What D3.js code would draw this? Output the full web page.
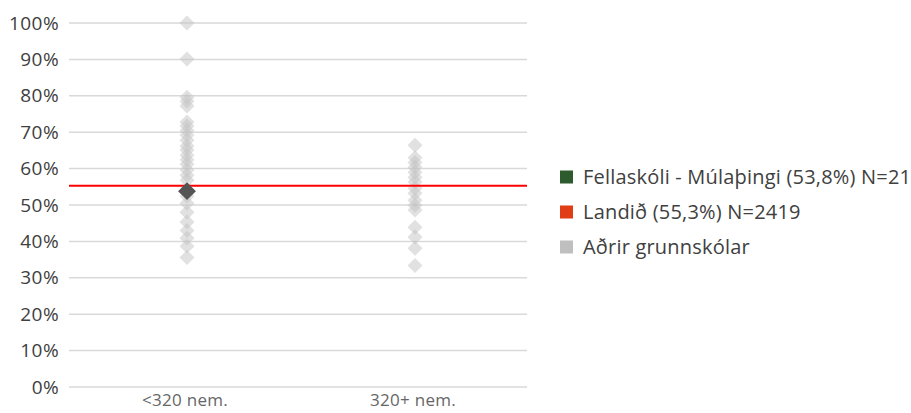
<!DOCTYPE html>
<html lang="is">
<head>
    <meta charset="UTF-8">
    <title>Grunnskólar</title>
    <script src="https://d3js.org/d3.v7.min.js"></script>
    <style>
        body {margin: 0; background: white;}
        svg {font-family: "Open Sans", sans-serif;}
        .grid line {stroke: #d9d9d9; stroke-width: 1.5;}
        .ytick {fill: #404040; font-size: 19px; letter-spacing: 0.4px;}
        .xtick {fill: #666; font-size: 17px; letter-spacing: 0.3px;}
        .legend text {fill: #404040; font-size: 20px; letter-spacing: 0.2px;}
    </style>
</head>
<body>
<script>
    const width = 911;
    const height = 413;

    // data
    const categories = ["<320 nem.", "320+ nem."];
    const smallSchools = [100, 90.1, 79.6, 78.5, 77.2, 72.8, 71.7, 70.5, 69.2, 67.8, 66.2, 65.1,
        63.7, 62.4, 61.2, 59.6, 58.2, 56.8, 52.4, 50.5, 48, 45.3, 43, 40.9, 38.7, 35.6];
    const largeSchools = [66.4, 63, 61.7, 60.4, 59, 57.6, 56.3, 54.6, 53.2, 51.3, 49.9,
        48.6, 43.9, 41.2, 38.1, 33.4];
    const highlight = {cat: "<320 nem.", value: 53.8};
    const national = 55.3;
    const yTicks = [0, 10, 20, 30, 40, 50, 60, 70, 80, 90, 100];
    const legendItems = [
        {label: "Fellaskóli - Múlaþingi (53,8%) N=21", color: "#2e5b2d"},
        {label: "Landið (55,3%) N=2419", color: "#e03c16"},
        {label: "Aðrir grunnskólar", color: "#bfbfbf"}
    ];

    const margin = {left: 69, right: 384, top: 23, bottom: 26};

    const svg = d3.select("body").append("svg")
            .attr("width", width).attr("height", height);

    const x = d3.scaleBand()
            .domain(categories)
            .range([margin.left + 3, width - margin.right + 1]);

    const y = d3.scaleLinear()
            .domain([0, 100])
            .range([height - margin.bottom, margin.top]);

    // gridlines
    svg.append("g").attr("class", "grid")
            .selectAll("line")
            .data(yTicks).enter()
            .append("line")
            .attr("x1", margin.left).attr("x2", width - margin.right)
            .attr("y1", d => y(d)).attr("y2", d => y(d));

    svg.append("g")
            .selectAll("text")
            .data(yTicks).enter()
            .append("text").attr("class", "ytick")
            .attr("x", 59).attr("y", d => y(d))
            .attr("dy", "0.35em")
            .attr("text-anchor", "end")
            .text(d => d + "%");

    svg.append("g")
            .selectAll("text")
            .data(categories).enter()
            .append("text").attr("class", "xtick")
            .attr("x", d => x(d) + x.bandwidth() / 2 - 1)
            .attr("y", 406)
            .attr("text-anchor", "middle")
            .text(d => d);

    // other schools
    const others = smallSchools.map(v => ({cat: categories[0], value: v}))
            .concat(largeSchools.map(v => ({cat: categories[1], value: v})));

    const diamond = d3.symbol().type(d3.symbolSquare).size(112);
    svg.append("g")
            .selectAll("path")
            .data(others).enter()
            .append("path")
            .attr("d", diamond)
            .attr("transform", d => `translate(${x(d.cat) + x.bandwidth() / 2 + 1},${y(d.value)}) rotate(45)`)
            .attr("fill", "#c4c4c4")
            .attr("fill-opacity", 0.5);

    // national average line
    svg.append("line")
            .attr("x1", margin.left).attr("x2", width - margin.right)
            .attr("y1", y(national)).attr("y2", y(national))
            .attr("stroke", "#ff0000").attr("stroke-width", 2);

    // the school
    svg.append("path")
            .attr("d", d3.symbol().type(d3.symbolSquare).size(160))
            .attr("transform", `translate(${x(highlight.cat) + x.bandwidth() / 2 + 1},${y(highlight.value)}) rotate(45)`)
            .attr("fill", "#545454");

    // legend
    const legend = svg.append("g").attr("class", "legend")
            .attr("transform", "translate(560,177)");
    const row = legend.selectAll("g")
            .data(legendItems).enter()
            .append("g")
            .attr("transform", (d, i) => `translate(0,${i * 35})`);
    row.append("rect")
            .attr("x", 0).attr("y", -6.5)
            .attr("width", 13).attr("height", 13)
            .attr("fill", d => d.color);
    row.append("text")
            .attr("x", 23).attr("dy", "0.35em")
            .text(d => d.label);
</script>
</body>
</html>
